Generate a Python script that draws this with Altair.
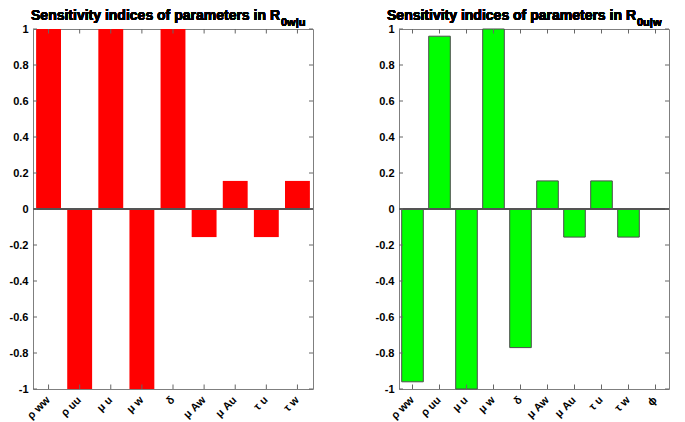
import altair as alt
import pandas as pd

cats_left = ["ρ ww", "ρ uu", "μ u", "μ w", "δ", "μ Aw", "μ Au", "τ u", "τ w"]
vals_left = [1.0, -1.0, 1.0, -1.0, 1.0, -0.156, 0.156, -0.156, 0.156]

cats_right = ["ρ ww", "ρ uu", "μ u", "μ w", "δ", "μ Aw", "μ Au", "τ u", "τ w", "ϕ"]
vals_right = [-0.96, 0.96, -1.0, 1.0, -0.77, 0.156, -0.156, 0.156, -0.156, 0.0]

y_ticks = [-1, -0.8, -0.6, -0.4, -0.2, 0, 0.2, 0.4, 0.6, 0.8, 1]

FONT = "Arial"
H = 360

x_axis = alt.Axis(title=None, labelAngle=315, ticks=False, domain=False, grid=False,
                  labelFont=FONT, labelFontSize=11, labelFontWeight="bold",
                  labelColor="black", labelPadding=9, labelAlign="right",
                  labelBaseline="middle", labelOverlap=False)
y_axis = alt.Axis(title=None, values=y_ticks, ticks=False, domain=False, grid=False,
                  labelExpr="toString(datum.value)", labelFont=FONT,
                  labelFontSize=11, labelFontWeight="bold", labelColor="black",
                  labelPadding=5, labelOverlap=False)


def panel(cats, vals, color, stroke, W, sub):
    df = pd.DataFrame({"cat": cats, "val": vals})
    xscale = alt.Scale(domain=cats, paddingInner=0.2, paddingOuter=0.1)
    yscale = alt.Scale(domain=[-1, 1], nice=False, zero=False)
    X = lambda f: alt.X(f, sort=cats, scale=xscale, axis=x_axis)
    Y = lambda f: alt.Y(f, scale=yscale, axis=y_axis)
    YD = lambda d: alt.Y(datum=d, scale=yscale, axis=y_axis)

    bar_kwargs = dict(color=color)
    if stroke:
        bar_kwargs.update(stroke=stroke, strokeWidth=1)
    else:
        bar_kwargs.update(strokeWidth=0)
    bars = alt.Chart(df).mark_bar(**bar_kwargs).encode(
        x=X("cat:N"), y=Y("val:Q"), y2=alt.datum(0))

    zero = alt.Chart(df).mark_rule(color="#555555", strokeWidth=1).encode(
        x=alt.value(0), x2=alt.value(W), y=YD(0))

    tdf = pd.DataFrame({"t": y_ticks})
    yt_left = alt.Chart(tdf).mark_rule(color="#666666").encode(
        x=alt.value(0), x2=alt.value(4), y=Y("t:Q"))
    yt_right = alt.Chart(tdf).mark_rule(color="#666666").encode(
        x=alt.value(W - 4), x2=alt.value(W), y=Y("t:Q"))
    cdf = pd.DataFrame({"cat": cats})
    xt_bot = alt.Chart(cdf).mark_rule(color="#666666").encode(
        x=X("cat:N"), y=YD(-1), y2=alt.datum(-0.975))
    xt_top = alt.Chart(cdf).mark_rule(color="#666666").encode(
        x=X("cat:N"), y=YD(1), y2=alt.datum(0.975))

    t_main = alt.Chart(df).mark_text(
        text="Sensitivity indices of parameters in R", font=FONT, fontSize=14,
        fontWeight="bold", align="right", baseline="alphabetic", color="black"
    ).encode(x=alt.value(W - 33), y=alt.value(-9))
    t_sub = alt.Chart(df).mark_text(
        text=sub, font=FONT, fontSize=11, fontWeight="bold", align="left",
        baseline="alphabetic", color="black"
    ).encode(x=alt.value(W - 32), y=alt.value(-3))

    return alt.layer(bars, zero, yt_left, yt_right, xt_bot, xt_top, t_main, t_sub).properties(
        width=W, height=H)


left = panel(cats_left, vals_left, "#FF0000", None, 280, "0w|u")
right = panel(cats_right, vals_right, "#00FF00", "#4d4d4d", 270, "0u|w")

chart = alt.hconcat(left, right, spacing=60).properties(
    padding={"left": 0, "top": 0, "right": 0, "bottom": 0}
).configure_view(stroke="#7f7f7f", strokeWidth=1).configure_axis(labelOverlap=False)

chart.save("out.html", embed_options={"renderer": "svg", "actions": False})
